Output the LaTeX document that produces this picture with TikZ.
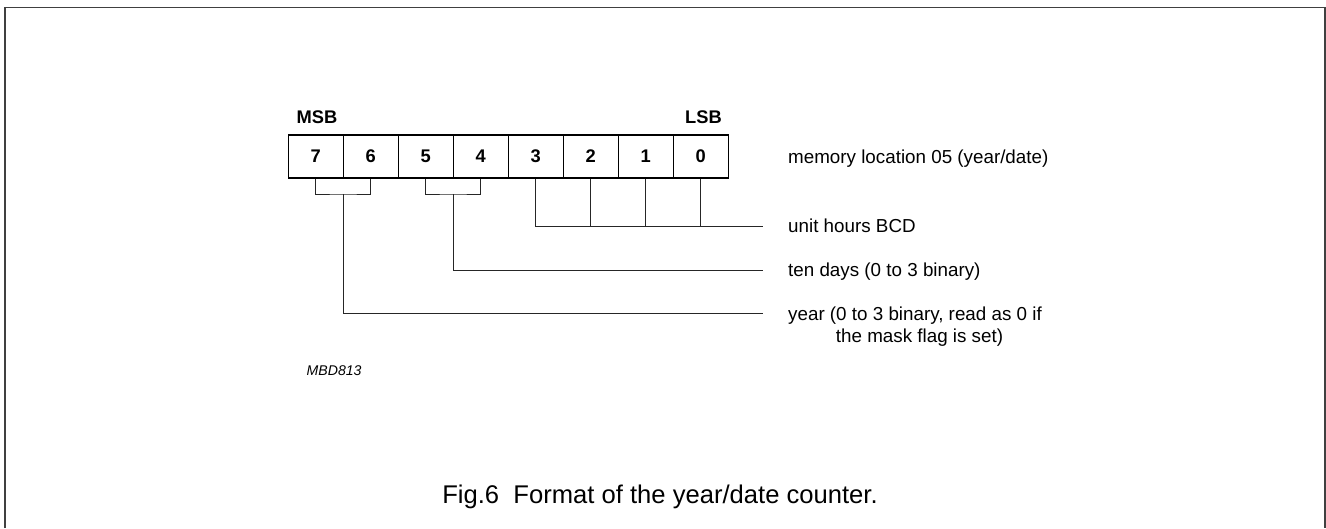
\documentclass[tikz,border=0pt]{standalone}
\usepackage{fontspec}
\setmainfont{Liberation Sans}
\begin{document}
\begin{tikzpicture}[x=1pt,y=-1pt,
  cell/.style={draw=black,line width=1.3pt,minimum width=55pt,minimum height=43pt,inner sep=0pt,
    font=\fontsize{18.3}{20}\selectfont\bfseries},
  lbl/.style={inner sep=0pt,anchor=base west,font=\fontsize{18.8}{22}\selectfont},
  conn/.style={line width=1pt,black!85}]
\useasboundingbox (0,0) rectangle (1326,528);
\draw[line width=1.6pt,black!75] (5,528) -- (5,7.5) -- (1325,7.5) -- (1325,528);
% cells
\foreach \b [count=\i from 0] in {7,6,5,4,3,2,1,0}
  \node[cell] (c\b) at (315.8+55*\i,156.5) {\b};
\node[inner sep=0pt,anchor=base west,font=\fontsize{18.3}{20}\selectfont\bfseries] (msb) at (296.5,123) {MSB};
\node[inner sep=0pt,anchor=base east,font=\fontsize{18.3}{20}\selectfont\bfseries] (lsb) at (722,123) {LSB};
% labels
\node[lbl] (mem) at (788,163) {memory location 05 (year/date)};
\node[lbl] (unit) at (788,232) {unit hours BCD};
\node[lbl] (ten) at (788,276.5) {ten days (0 to 3 binary)};
\node[lbl] (year) at (788,320) {year (0 to 3 binary, read as 0 if};
\node[inner sep=0pt,anchor=base,font=\fontsize{18.8}{22}\selectfont] (year2) at (919.5,342) {the mask flag is set)};
\node[inner sep=0pt,anchor=base west,font=\fontsize{14.1}{16}\selectfont\itshape] (mbd) at (306.5,375) {MBD813};
\node[inner sep=0pt,anchor=base,font=\fontsize{25.6}{30}\selectfont] (cap) at (660,503) {Fig.6\ \ Format of the year/date counter.};
% line ends
\coordinate (eU) at (763,226);
\coordinate (eT) at (763,270);
\coordinate (eY) at (763,313);
\coordinate (b76) at (343.3,194);
\coordinate (b54) at (453.3,194);
% unit bits
\draw[conn] (c3.south) |- (eU);
\foreach \b in {2,1,0} \draw[conn] (c\b.south) -- (c\b.south |- eU);
% ten days
\draw[conn] (c5.south) |- (b54) -| (c4.south);
\draw[conn] (b54) |- (eT);
% year
\draw[conn] (c7.south) |- (b76) -| (c6.south);
\draw[conn] (b76) |- (eY);
\end{tikzpicture}
\end{document}
